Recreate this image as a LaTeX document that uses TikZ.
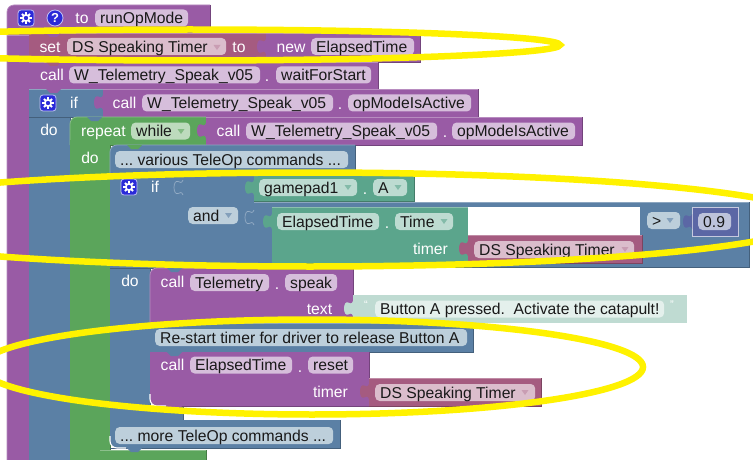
\documentclass[tikz,border=0pt]{standalone}
\usepackage{fontspec}
\setmainfont{Liberation Sans}
\frenchspacing
\usetikzlibrary{calc}
\definecolor{cProc}{HTML}{995BA5}
\definecolor{cVar}{HTML}{A55B80}
\definecolor{cBlue}{HTML}{5B80A5}
\definecolor{cGreen}{HTML}{5BA55B}
\definecolor{cTeal}{HTML}{5BA58C}
\definecolor{cNum}{HTML}{5B67A5}
\definecolor{cStr}{HTML}{BFDBD2}
\definecolor{fProc}{HTML}{D6BEDB}
\definecolor{fVar}{HTML}{DBBDCC}
\definecolor{fBlue}{HTML}{BDCFDB}
\definecolor{fGreen}{HTML}{BDDBBD}
\definecolor{fTeal}{HTML}{BDDBD1}
\definecolor{fNum}{HTML}{BDC3DB}
\definecolor{fStr}{HTML}{E4F0EC}
\definecolor{cIcon}{HTML}{2A2AD8}
\definecolor{cMark}{HTML}{FFF200}
\tikzset{
  fieldbox/.style={rounded corners=4.5pt,draw=none,inner xsep=5pt,inner ysep=0pt,minimum height=17pt,
    text height=13pt,text depth=1.4pt,anchor=west,text=black!90},
  lbl/.style={text=white,inner sep=0pt,text height=13pt,text depth=1.4pt},
  iconbox/.style={fill=cIcon,draw=white!70!cIcon,line width=0.8pt,rounded corners=3pt,minimum size=16pt,inner sep=0pt},
  marker/.style={draw=cMark,line width=6.5pt}
}
% plain block
\newcommand\bk[5]{%
  \fill[#1] (#2,#3) rectangle (#4,#5);
  \draw[#1!75!black,line width=0.8pt] (#2,#5) -- (#4,#5) -- (#4,#3);
  \draw[#1!70!white,line width=0.7pt] (#2,#3) -- (#4,#3);
}
% block with rounded top-left corner
\newcommand\bkt[5]{%
  \fill[#1] (#2,#5) [rounded corners=7pt]-- (#2,#3) [sharp corners]-- (#4,#3) -- (#4,#5) -- cycle;
  \draw[#1!75!black,line width=0.8pt] (#2,#5) -- (#4,#5) -- (#4,#3);
  \draw[#1!70!white,line width=0.7pt,rounded corners=7pt] (#2,#5) -- (#2,#3) -- (#4,#3);
}
% block with rounded bottom-left corner
\newcommand\bkb[5]{%
  \fill[#1] (#2,#3) [rounded corners=7pt]-- (#2,#5) [sharp corners]-- (#4,#5) -- (#4,#3) -- cycle;
  \draw[#1!75!black,line width=0.8pt] (#2,#5) -- (#4,#5) -- (#4,#3);
  \draw[white,line width=1.1pt,rounded corners=7pt] (#2,{#5-12}) -- (#2,#5) -- ({#2+16},#5);
}
% output tab on left edge: colour, x of edge, top y
\newcommand\tabpath[2]{(#1,#2) .. controls ({#1-1},{#2+3}) and ({#1-3},{#2+3}) .. ({#1-5},{#2+1.5})
    .. controls ({#1-7},{#2+0.5}) and ({#1-9},{#2+3}) .. ({#1-9},{#2+7.5})
    .. controls ({#1-9},{#2+12}) and ({#1-7},{#2+14.5}) .. ({#1-5},{#2+13.5})
    .. controls ({#1-3},{#2+12}) and ({#1-1},{#2+12}) .. (#1,{#2+15})}
\newcommand\tb[3]{\fill[#1] \tabpath{#2}{#3} -- cycle;}
% empty socket: same shape, light rim
\newcommand\skt[3]{\draw[#1!65!white,line width=0.7pt] \tabpath{#2}{#3};}
% statement notch: colour, block x, y
\newcommand\nt[3]{%
  \fill[#1] ({#2+17},#3) -- ({#2+21},{#3+4}) -- ({#2+28},{#3+4}) -- ({#2+32},#3) -- cycle;
}
% field: name, colour, x1, y1, x2, y2, text
\newcommand\fld[7]{%
  \pgfmathsetmacro\fw{#5-#3}\pgfmathsetmacro\tw{#5-#3-10}\pgfmathsetmacro\fy{(#4+#6)/2}%
  \node[fieldbox,fill=#2,minimum width=\fw pt] (#1) at (#3,\fy) {\makebox[\tw pt][l]{#7}};
}
% white label
\newcommand\lb[4]{\node[lbl] (#1) at (#2,#3) {#4};}
% dropdown arrow
\newcommand\dd[3]{\fill[#1] ({#2-3.5},{#3-2}) -- ({#2+3.5},{#3-2}) -- (#2,{#3+3}) -- cycle;}
% gear icon
\newcommand\gr[3]{%
  \node[iconbox] (#1) at (#2,#3) {};
  \foreach \a in {0,45,...,315}{\draw[white,line width=1.8pt] ($(#1)+(\a:3.5pt)$) -- ($(#1)+(\a:5.8pt)$);}
  \draw[white,line width=1.7pt] (#1) circle[radius=3.2pt];
}
\begin{document}
\begin{tikzpicture}[x=1pt,y=-1pt,font=\fontsize{15.7}{18}\selectfont]
\useasboundingbox (0,0) rectangle (753,460);
\fill[white] (0,0) rectangle (753,460);

% procedure
\bk{cProc}{7}{35}{29}{460}
\fill[cProc] (7,35) [rounded corners=7pt]-- (7,5) [sharp corners]-- (210,5) -- (210,35) -- cycle;
\draw[cProc!70!white,line width=0.7pt,rounded corners=7pt] (7,460) -- (7,5) -- (210,5);
\draw[cProc!75!black,line width=0.8pt] (210,5) -- (210,35);
\gr{g1}{26}{18}
\node[circle,fill=cIcon,draw=white!70!cIcon,line width=0.8pt,minimum size=16pt,inner sep=0pt,text=white,font=\fontsize{13}{14}\selectfont\bfseries] (help) at (55,18) {?};
\lb{lto}{82}{18}{to}
\fld{fmode}{fProc}{95}{10}{188}{26}{runOpMode}

% blue if column
\bk{cBlue}{29}{117}{70}{460}
% set
\bk{cVar}{29}{33}{266}{62}
\nt{cProc}{29}{33}
\lb{lset}{50}{46.5}{set}
\fld{fset}{fVar}{67}{38}{226}{55}{DS Speaking Timer}
\dd{cVar!60!white}{217}{47}
\lb{lsetto}{239}{46.5}{to}
\bk{cProc}{266}{33}{420}{62}
\tb{cProc}{266}{39}
\lb{lnew}{291}{46.5}{new}
\fld{fnew}{fProc}{311}{38}{414}{55}{ElapsedTime}

% call waitForStart
\bk{cProc}{29}{62}{378}{89}
\nt{cVar}{29}{62}
\lb{lc1}{52}{74.5}{call}
\fld{fw1}{fProc}{69}{67}{260}{83}{W\_Telemetry\_Speak\_v05}
\lb{ld1}{267}{76}{.}
\fld{fw2}{fProc}{276}{67}{371}{83}{waitForStart}

% if header
\bk{cBlue}{29}{89}{103}{117}
\nt{cProc}{29}{89}
\gr{g2}{48}{103}
\lb{lif}{74}{102.5}{if}
\bk{cProc}{103}{89}{478}{117}
\tb{cProc}{103}{95}
\lb{lc2}{124.5}{102.5}{call}
\fld{fw3}{fProc}{142}{95}{333}{111}{W\_Telemetry\_Speak\_v05}
\lb{ld2}{340}{104}{.}
\fld{fw4}{fProc}{348}{95}{471}{111}{opModeIsActive}
\lb{ldo1}{49}{130}{do}

% repeat
\fill[cGreen] (70,145) [sharp corners]-- (70,457) [rounded corners=7pt]-- (70,468) [sharp corners]-- (110,468) -- (110,145) -- cycle;
\draw[cGreen!75!black,line width=0.8pt] (110,145) -- (110,450);
\bkt{cGreen}{70}{117}{206}{145}
\nt{cBlue}{70}{117}
\fill[cGreen] (70,140) rectangle (110,150);
\bk{cGreen}{100}{450}{206}{470}
\lb{lrep}{103.5}{130.5}{repeat}
\fld{fwh}{fGreen}{131}{123}{190}{139}{while}
\dd{cGreen!75!white}{181}{131}
\bk{cProc}{206}{117}{582}{145}
\tb{cProc}{206}{123}
\lb{lc3}{228.5}{130.5}{call}
\fld{fw5}{fProc}{246}{123}{437}{139}{W\_Telemetry\_Speak\_v05}
\lb{ld3}{445}{132}{.}
\fld{fw6}{fProc}{452}{123}{575}{139}{opModeIsActive}
\lb{ldo2}{90}{158}{do}

% inner if body
\bk{cBlue}{110}{268}{150}{407}
\bk{cBlue}{110}{173}{183}{268}
\bk{cBlue}{110}{406}{183}{420}
\bkt{cBlue}{110}{145}{355}{173}
\nt{cGreen}{110}{145}
\fld{fvar}{fBlue}{115}{151}{348}{168}{... various TeleOp commands ...}
\gr{g3}{129}{187}
\lb{lif2}{155}{187}{if}
\bk{cBlue}{183}{173}{254}{268}
\skt{cBlue}{183}{180}
\fld{fand}{fBlue}{188}{207}{238}{224}{and}
\dd{cBlue!75!white}{228.5}{215}

% gamepad
\bk{cTeal}{254}{173}{414}{201}
\tb{cTeal}{254}{180}
\fld{fgp}{fTeal}{259}{179}{357}{196}{gamepad1}
\dd{cTeal!75!white}{348}{187}
\lb{ld4}{365}{189}{.}
\fld{fA}{fTeal}{373}{179}{407}{196}{A}
\dd{cTeal!75!white}{398}{187}

% comparison
\bk{cBlue}{254}{202}{749}{267}
\skt{cBlue}{254}{210}
\bk{cTeal}{272}{207}{468}{263}
\tb{cTeal}{272}{214}
\fld{fet}{fTeal}{277}{213}{379}{230}{ElapsedTime}
\lb{ld5}{387}{223}{.}
\fld{ftime}{fTeal}{395}{213}{453}{230}{Time}
\dd{cTeal!75!white}{444}{221}
\lb{ltim1}{430.5}{248.5}{timer}
\fill[white] (468,207) rectangle (640,235);
\bk{cVar}{468}{235}{642}{263}
\tb{cVar}{468}{241}
\fld{fds2}{fVar}{474}{241}{634}{258}{DS Speaking Timer}
\dd{cVar!60!white}{625}{249}
\fld{fgt}{fBlue}{647}{212}{680}{229}{>}
\dd{cBlue!75!white}{670}{220}
\bk{cNum}{692}{207}{738}{236}
\draw[white!65!cNum,line width=0.7pt] (692,207) rectangle (738,236);
\tb{cNum}{692}{214}
\fld{fnum}{fNum}{698}{213}{731}{230}{0.9}

% do: speak
\lb{ldo3}{130}{280.5}{do}
\bkt{cProc}{150}{268}{353}{323}
\nt{cBlue}{150}{268}
\lb{lc4}{172.5}{281.5}{call}
\fld{ftel}{fProc}{190}{274}{269}{291}{Telemetry}
\lb{ld6}{277}{284}{.}
\fld{fsp}{fProc}{285}{274}{337}{291}{speak}
\lb{ltext}{319.5}{308.5}{text}
\fill[cStr] (353,295) rectangle (687,323);
\tb{cStr}{353}{301}
\node[text=white,inner sep=0pt,font=\fontsize{11}{12}\selectfont] (q1) at (366,305) {“};
\fld{fbtn}{fStr}{375}{300}{664}{318}{Button A pressed.\ \ Activate the catapult!}
\node[text=white,inner sep=0pt,font=\fontsize{11}{12}\selectfont] (q2) at (672,305) {”};

% comment
\bk{cBlue}{150}{323}{473}{352}
\nt{cProc}{150}{323}
\fld{fcom}{fBlue}{155}{329}{467}{346}{Re-start timer for driver to release Button A}

% reset
\bkb{cProc}{150}{352}{369}{406}
\nt{cBlue}{150}{352}
\nt{cProc}{150}{406}
\lb{lc5}{172.5}{364.5}{call}
\fld{fet2}{fProc}{190}{357}{292}{373}{ElapsedTime}
\lb{ld7}{300}{367}{.}
\fld{frs}{fProc}{308}{357}{353}{373}{reset}
\lb{ltim2}{330.5}{391.5}{timer}
\bk{cVar}{369}{378}{541}{406}
\tb{cVar}{369}{384}
\fld{fds3}{fVar}{375}{384}{535}{401}{DS Speaking Timer}
\dd{cVar!60!white}{525}{392}

% more
\bkb{cBlue}{110}{420}{340}{448}
\nt{cBlue}{110}{420}
\nt{cBlue}{110}{448}
\fld{fmore}{fBlue}{115}{427}{333}{444}{... more TeleOp commands ...}

% highlight ellipses
\draw[marker] (190,45) ellipse[x radius=370,y radius=15.5];
\draw[marker] (310,219.5) ellipse[x radius=502,y radius=47];
\draw[marker] (312,367) ellipse[x radius=331,y radius=47.5];
\end{tikzpicture}
\end{document}
